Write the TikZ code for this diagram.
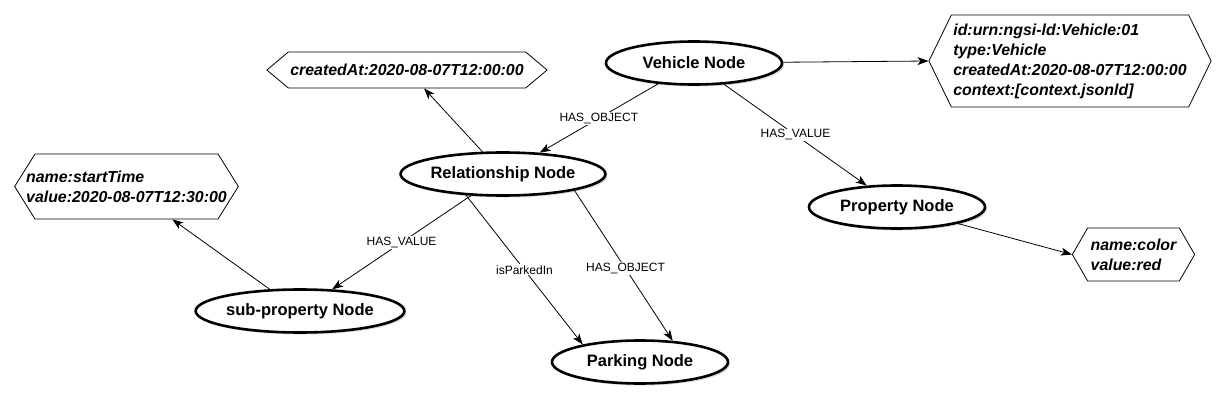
\documentclass[tikz,border=0pt]{standalone}
\usepackage{fontspec}
\setmainfont{Liberation Sans}
\usetikzlibrary{shapes.geometric,shapes.symbols,arrows.meta,shadows}
\tikzset{
  ent/.style={ellipse, draw=black, line width=2.6pt, fill=white,
    minimum width=176pt, minimum height=43pt, inner sep=0pt,
    font=\bfseries\fontsize{16.5}{19}\selectfont,
    drop shadow={opacity=0.3, shadow xshift=2pt, shadow yshift=-2pt}},
  attr/.style={signal, signal to=west and east, draw=black, line width=0.8pt,
    fill=white, align=left, inner xsep=2pt, inner ysep=0pt,
    font=\bfseries\itshape\fontsize{15.9}{20}\selectfont},
  rel/.style={draw=black, line width=0.8pt,
    -{Stealth[length=11pt,width=8pt,inset=3pt]}},
  lbl/.style={fill=white, inner sep=1pt, font=\fontsize{12}{14}\selectfont}
}
\begin{document}
\begin{tikzpicture}[x=1pt,y=-1pt]
\useasboundingbox (0,0) rectangle (1226,404);
\fill[white] (0,0) rectangle (1226,404);

\node[ent] (veh)  at (694,63)  {Vehicle Node};
\node[ent] (rel)  at (503,174) {Relationship Node};
\node[ent] (prop) at (897,207) {Property Node};
\node[ent] (sub)  at (300,311) {sub-property Node};
\node[ent] (park) at (640,362) {Parking Node};

\node[attr, signal pointer angle=80, minimum height=36pt] (ca) at (407,70)
  {createdAt:2020-08-07T12:00:00};
\node[attr, signal pointer angle=128, minimum height=92pt] (info) at (1070,61)
  {id:urn:ngsi-ld:Vehicle:01\\type:Vehicle\\createdAt:2020-08-07T12:00:00\\context:[context.jsonld]};
\node[attr, signal pointer angle=116, minimum height=65pt, inner xsep=-8.8pt] (st) at (126.5,186.5)
  {name:startTime\\value:2020-08-07T12:30:00};
\node[attr, signal pointer angle=120, minimum height=53pt, inner xsep=3pt] (col) at (1133.5,254.5)
  {name:color\\value:red};

\draw[rel] (veh) -- (info.west);
\draw[rel] (veh) -- node[lbl]{HAS\_OBJECT} (rel);
\draw[rel] (veh) -- node[lbl]{HAS\_VALUE} (prop);
\draw[rel] (rel) -- (ca);
\draw[rel] (rel) -- node[lbl]{HAS\_VALUE} (sub);
\draw[rel] (rel.210) -- node[lbl,pos=0.5]{isParkedIn} (park.163);
\draw[rel] (rel.347) -- node[lbl,pos=0.52]{HAS\_OBJECT} (park.33);
\draw[rel] (sub) -- (st);
\draw[rel] (prop) -- (col.west);
\end{tikzpicture}
\end{document}
